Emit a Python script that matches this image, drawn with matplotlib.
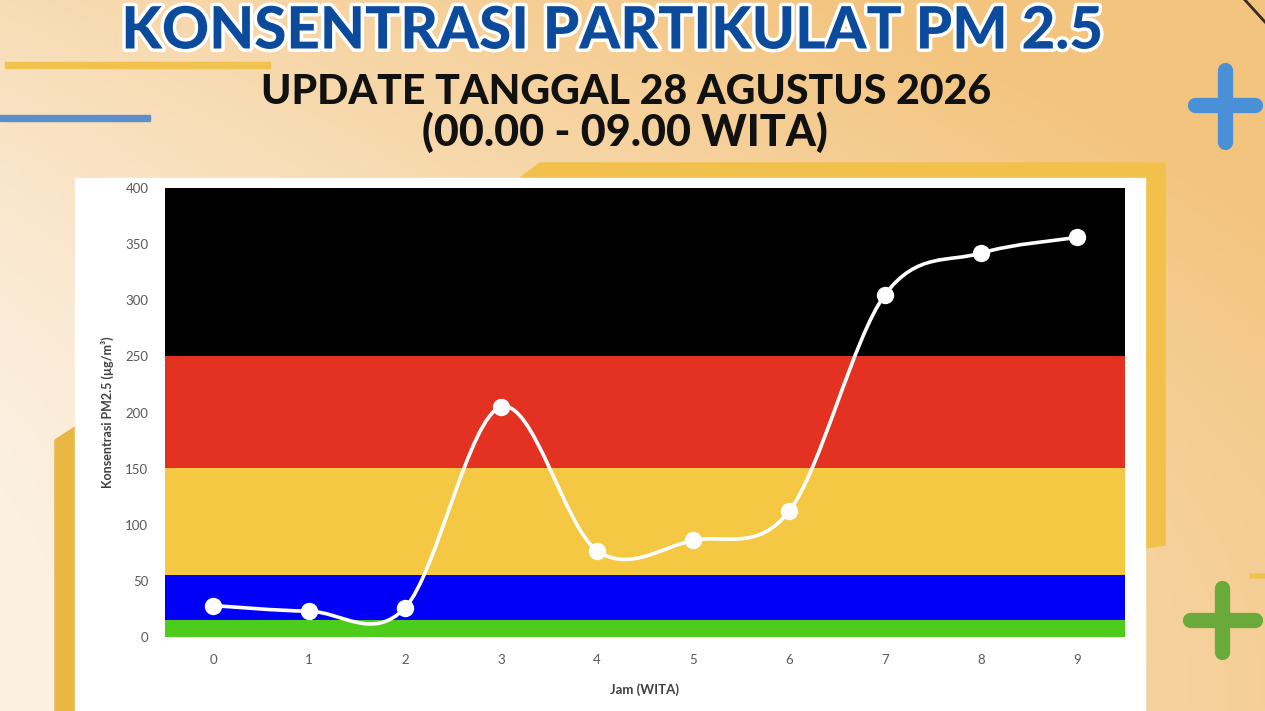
import numpy as np
import matplotlib
matplotlib.use("Agg")
import matplotlib.pyplot as plt
from matplotlib.path import Path
from matplotlib.patches import PathPatch, Rectangle, Polygon
import matplotlib.patheffects as pe

# data
jam = [0, 1, 2, 3, 4, 5, 6, 7, 8, 9]
pm25 = [28, 23, 26, 205, 77, 86, 112, 305, 342, 356]

band_low = [0, 15.5, 55.4, 150.4, 250.4]
band_high = [15.5, 55.4, 150.4, 250.4, 400]
band_colors = ["#4dcc1c", "#0000f8", "#f5c843", "#e43222", "#000000"]

yticks = [0, 50, 100, 150, 200, 250, 300, 350, 400]

W, H = 1265, 711
fig = plt.figure(figsize=(W / 100, H / 100), dpi=100)

# background layer in pixel coords
bg = fig.add_axes([0, 0, 1, 1])
bg.set_xlim(0, W)
bg.set_ylim(H, 0)
bg.axis("off")

gx = np.linspace(0, 1, 300)
gy = np.linspace(0, 1, 170)
X, Y = np.meshgrid(gx, gy)
light = np.array([252, 240, 226]) / 255
warm = np.array([243, 196, 126]) / 255
t = np.clip(0.8 * X + 0.5 * (1 - Y) ** 2 - 0.05, 0, 1)
img = light[None, None, :] * (1 - t[..., None]) + warm[None, None, :] * t[..., None]
bg.imshow(img, extent=[0, W, H, 0], aspect="auto", zorder=0)

# decorations
bg.add_patch(Rectangle((5, 62), 265, 6, color="#f0c24e", zorder=1))
bg.add_patch(Rectangle((0, 115), 150, 6, color="#5b8fc9", zorder=1))
bg.plot([1195, 1255], [105, 105], color="#4a90d6", lw=11, solid_capstyle="round", zorder=1)
bg.plot([1225, 1225], [70, 142], color="#4a90d6", lw=11, solid_capstyle="round", zorder=1)
bg.plot([1190, 1255], [620, 620], color="#6aaa3a", lw=11, solid_capstyle="round", zorder=1)
bg.plot([1222, 1222], [588, 652], color="#6aaa3a", lw=11, solid_capstyle="round", zorder=1)
bg.plot([1252, 1265], [576, 576], color="#f0c24e", lw=4, zorder=1)
bg.plot([1245, 1265], [0, 22], color="#3a2a28", lw=2, zorder=1)
bg.add_patch(Polygon([[520, 178], [540, 163], [1165, 163], [1165, 545], [1145, 548], [1145, 178]],
                     closed=True, color="#f1c14b", zorder=1))
bg.add_patch(Polygon([[55, 440], [75, 427], [75, 711], [55, 711]], closed=True,
                     color="#eab742", zorder=1))
bg.add_patch(Rectangle((75, 178), 1070, 540, color="white", zorder=2))

# titles
title_font = dict(family=["Lato", "DejaVu Sans"], weight="black")
bg.text(612, 32, "KONSENTRASI PARTIKULAT PM 2.5", ha="center", va="center",
        fontsize=42, color="#0c4a9c", zorder=3,
        path_effects=[pe.withStroke(linewidth=5, foreground="white")], **title_font)
bg.text(626, 92, "UPDATE TANGGAL 28 AGUSTUS 2026", ha="center", va="center",
        fontsize=29.5, color="#111111", zorder=3, **title_font)
bg.text(625, 132, "(00.00 - 09.00 WITA)", ha="center", va="center",
        fontsize=31, color="#111111", zorder=3, **title_font)

# chart
ax = fig.add_axes([165 / W, 1 - 637 / H, 960 / W, 449 / H])
ax.set_zorder(5)
ax.set_xlim(-0.5, 9.5)
ax.set_ylim(0, 400)
for lo, hi, c in zip(band_low, band_high, band_colors):
    ax.axhspan(lo, hi, color=c, lw=0, zorder=1)

# smoothed line (bezier through points, like spreadsheet smoothing)
pts = np.column_stack([jam, pm25]).astype(float)
verts = [pts[0]]
codes = [Path.MOVETO]
n = len(pts)
for i in range(n - 1):
    p0 = pts[max(i - 1, 0)]
    p1 = pts[i]
    p2 = pts[i + 1]
    p3 = pts[min(i + 2, n - 1)]
    c1 = p1 + (p2 - p0) / 6
    c2 = p2 - (p3 - p1) / 6
    verts += [c1, c2, p2]
    codes += [Path.CURVE4] * 3
ax.add_patch(PathPatch(Path(verts, codes), fill=False, edgecolor="white", lw=2.6, zorder=3))
ax.plot(jam, pm25, "o", color="white", ms=11.5, zorder=4)

for s in ax.spines.values():
    s.set_visible(False)
ax.set_yticks(yticks)
ax.set_xticks(jam)
ax.tick_params(length=0, labelsize=9.5, labelcolor="#595959")
ax.tick_params(axis="y", pad=12)
ax.tick_params(axis="x", pad=12)
for lab in ax.get_xticklabels() + ax.get_yticklabels():
    lab.set_family(["Lato", "DejaVu Sans"])
ax.set_xlabel("Jam (WITA)", fontsize=9.5, fontweight="bold", color="#404040",
              family=["Lato", "DejaVu Sans"], labelpad=13)
ax.set_ylabel("Konsentrasi PM2.5 (µg/m³)", fontsize=9, fontweight="bold", color="#404040",
              family=["Lato", "DejaVu Sans"], labelpad=8)

fig.savefig("out.png", dpi=100)
